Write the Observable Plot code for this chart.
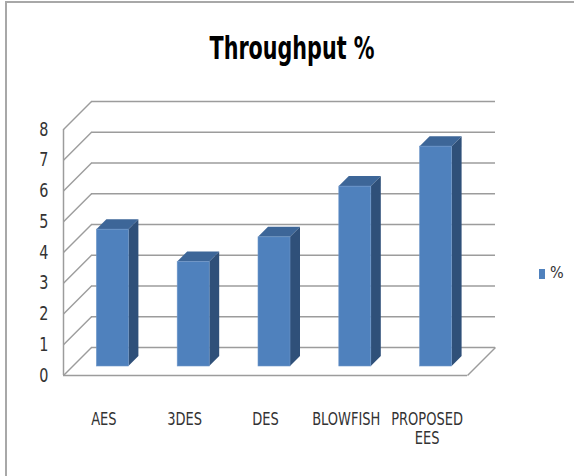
<!DOCTYPE html>
<html>
<head>
<meta charset="utf-8">
<script src="https://cdn.jsdelivr.net/npm/d3@7"></script>
<script src="https://cdn.jsdelivr.net/npm/@observablehq/plot@0.6"></script>
<style>
  html, body { margin: 0; padding: 0; background: #fff; }
  #wrap { position: relative; width: 574px; height: 476px; overflow: hidden; background: #fff;
          font-family: "Liberation Sans Narrow", "DejaVu Sans Condensed", "Liberation Sans", sans-serif; }
  #bl { position: absolute; left: 5px; top: 1px; width: 2px; height: 475px; background: #a8a8a8; }
  #bt { position: absolute; left: 5px; top: 1px; width: 569px; height: 2px; background: #a8a8a8; }
  #title { position: absolute; left: 0; width: 584px; top: 40px; text-align: center; font-weight: bold;
           font-size: 23px; line-height: 23px; color: #000; transform: scaleY(1.4); transform-origin: 50% 19px; }
  #legend { position: absolute; left: 539px; top: 262px; font-size: 16px; line-height: 22px; color: #333; white-space: nowrap; }
  #legend .sw { display: inline-block; width: 6px; height: 10px; background: #4f81bd; margin-right: 5px; vertical-align: -1px; }
  #chart { position: absolute; left: 0; top: 0; }
</style>
</head>
<body>
<div id="wrap">
  <div id="chart"></div>
  <div id="bl"></div><div id="bt"></div>
  <div id="title">Throughput %</div>
  <div id="legend"><span class="sw"></span>%</div>
</div>
<script>
// ---- data ----
const categories = ["AES", "3DES", "DES", "BLOWFISH", "PROPOSED\nEES"];
const values = [4.45, 3.4, 4.2, 5.85, 7.15];
const yTicks = [0, 1, 2, 3, 4, 5, 6, 7, 8];
const seriesName = "%";

// ---- layout ----
const W = 574, H = 476, mL = 63, mR = 107, mT = 129, mB = 101;
const n = categories.length, yMax = 8;
const ppuX = (W - mL - mR) / n, ppuY = (H - mT - mB) / yMax;
const wall = 28;       // px depth of the back wall
const barFront = 9;    // px depth of bar front face
const barDepth = 10;   // px depth of bar
const barHalf = 16;    // px half-width of bar
const grid = "#9c9c9c";

const wx = wall / ppuX, wy = wall / ppuY;
const bx = barDepth / ppuX, by = barDepth / ppuY;
const hw = barHalf / ppuX;

const rows = categories.map((name, i) => ({name, i, v: values[i], xl: i + 0.5 - hw, xr: i + 0.5 + hw}));
const topPts = rows.flatMap(d => [
  {name: d.name, y: d.v, x1: d.xl, x2: d.xr},
  {name: d.name, y: d.v + by, x1: d.xl + bx, x2: d.xr + bx}
]);
const sidePts = rows.flatMap(d => [
  {name: d.name, x: d.xr, y1: 0, y2: d.v},
  {name: d.name, x: d.xr + bx, y1: by, y2: d.v + by}
]);

const plot = Plot.plot({
  width: W, height: H,
  marginLeft: mL, marginRight: mR, marginTop: mT, marginBottom: mB,
  x: {domain: [0, n], axis: null},
  y: {domain: [0, yMax], axis: null},
  style: {fontFamily: '"Liberation Sans Narrow", "DejaVu Sans Condensed", "Liberation Sans", sans-serif', fontSize: "16px", color: "#333", background: "transparent"},
  marks: [
    // back wall gridlines
    Plot.ruleY(yTicks, {y: d => d + wy, x1: () => wx, x2: () => n + wx, stroke: grid, strokeWidth: 1.5, strokeOpacity: 1}),
    // left wall diagonals
    Plot.link(yTicks, {x1: () => 0, y1: d => d, x2: () => wx, y2: d => d + wy, stroke: grid, strokeWidth: 1.5, strokeOpacity: 1}),
    // front left edge
    Plot.ruleX([0], {y1: () => 0, y2: () => yMax, stroke: grid, strokeWidth: 1.5, strokeOpacity: 1}),
    // floor front edge and right diagonal
    Plot.ruleY([0], {x1: () => 0, x2: () => n, stroke: grid, strokeWidth: 1.5, strokeOpacity: 1}),
    Plot.link([n], {x1: d => d, y1: () => 0, x2: d => d + wx, y2: () => wy, stroke: grid, strokeWidth: 1.5, strokeOpacity: 1}),
    // bars: side, top, front
    Plot.areaY(sidePts, {x: "x", y1: "y1", y2: "y2", z: "name", fill: "#2f5079", dx: barFront, dy: -barFront}),
    Plot.areaX(topPts, {y: "y", x1: "x1", x2: "x2", z: "name", fill: "#3d6698", dx: barFront, dy: -barFront}),
    Plot.rect(rows, {x1: "xl", x2: "xr", y1: () => 0, y2: "v", fill: "#4f81bd", stroke: "#6f97c9", strokeWidth: 0.6, dx: barFront, dy: -barFront}),
    // y tick labels
    Plot.text(yTicks, {x: () => 0, y: d => d, text: d => String(d), textAnchor: "end", dx: -15, fill: "#333", fontSize: 16}),
    // x category labels
    Plot.text(rows, {x: d => d.i + 0.5, y: () => 0, text: "name", lineAnchor: "top", dy: 36, lineHeight: 1.1, fill: "#333", fontSize: 14.5})
  ]
});
// stretch label glyphs vertically (the source chart's font is tall and narrow)
plot.querySelectorAll("text").forEach(t => {
  const tr = t.getAttribute("transform");
  if (tr) t.setAttribute("transform", tr + " scale(1,1.2)");
});
document.getElementById("chart").appendChild(plot);
document.querySelector("#legend").lastChild.textContent = seriesName;
</script>
</body>
</html>
